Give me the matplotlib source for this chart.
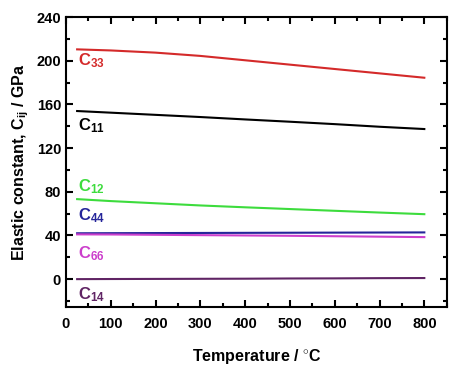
import matplotlib.pyplot as plt

plt.rcParams['font.family'] = 'Liberation Sans'
plt.rcParams['font.weight'] = 'bold'
plt.rcParams['axes.labelweight'] = 'bold'
plt.rcParams['mathtext.fontset'] = 'custom'
plt.rcParams['mathtext.rm'] = 'Liberation Sans:bold'
plt.rcParams['mathtext.it'] = 'Liberation Sans:bold'
plt.rcParams['mathtext.bf'] = 'Liberation Sans:bold'

T = [25, 100, 200, 300, 400, 500, 600, 700, 800]
C33 = [210.5, 209.5, 207.5, 204.5, 200.5, 196.5, 192.5, 188.5, 184.5]
C11 = [154, 152.5, 150.5, 148.5, 146.3, 144.2, 142, 139.6, 137.5]
C12 = [73.3, 71.5, 69.5, 67.5, 65.8, 64.2, 62.6, 61, 59.5]
C44 = [42, 42.1, 42.2, 42.3, 42.4, 42.5, 42.6, 42.7, 42.8]
C66 = [41, 40.9, 40.6, 40.3, 40, 39.7, 39.3, 38.9, 38.5]
C14 = [0, 0.1, 0.2, 0.3, 0.4, 0.6, 0.7, 0.9, 1.0]

names = ['33', '11', '12', '44', '66', '14']
series = [C33, C11, C12, C44, C66, C14]
colors = ['#d42a2a', 'black', '#3ddc3d', '#25259a', '#cc3fcc', '#602464']
label_y = [200, 141, 85, 58, 23, -14]

fig = plt.figure(figsize=(4.61, 3.65), dpi=100)
ax = fig.add_axes([0.143, 0.159, 0.827, 0.794])

for n, s, c, ly in zip(names, series, colors, label_y):
    ax.plot(T, s, color=c, lw=1.5)
    ax.text(28, ly, r'C$_{' + n + '}$', color=c, fontsize=12,
            fontweight='bold', va='center', ha='left')

ax.set_xlim(0, 851)
ax.set_ylim(-25.5, 240)
ax.set_xticks(range(0, 801, 100))
ax.set_xticks(range(50, 851, 100), minor=True)
ax.set_yticks(range(0, 241, 40))
ax.set_yticks(range(-20, 241, 40), minor=True)
ax.tick_params(which='both', direction='in', top=True, right=True, width=1.5, labelsize=10.5)
ax.tick_params(which='major', length=5)
ax.tick_params(which='minor', length=3)
ax.tick_params(axis='x', pad=7)
for lab in ax.get_xticklabels() + ax.get_yticklabels():
    lab.set_fontweight('bold')
for sp in ax.spines.values():
    sp.set_linewidth(1.5)

ax.set_xlabel(r'Temperature / $^{\circ}$C', fontsize=11.5, fontweight='bold', labelpad=12)
ax.set_ylabel(r'Elastic constant, C$_{ij}$ / GPa', fontsize=11.5, fontweight='bold', labelpad=4)

fig.savefig('out.png', dpi=100)
